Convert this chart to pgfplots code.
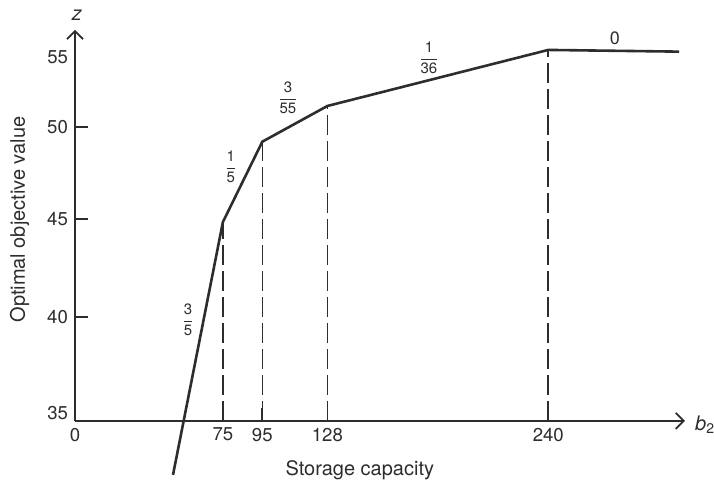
\documentclass[border=0pt]{standalone}
\usepackage{fontspec}
\setmainfont{TeX Gyre Heros}
\usepackage{pgfplots}
\pgfplotsset{compat=1.18}
\usetikzlibrary{arrows.meta}
\definecolor{ink}{RGB}{45,45,45}
\newcommand{\fr}[2]{$\displaystyle\frac{\mbox{#1}}{\mbox{#2}}$}
\begin{document}
\begin{tikzpicture}
\begin{axis}[
  scale only axis, width=305pt, height=195.5pt,
  xmin=0, xmax=309.3, ymin=35, ymax=55.58,
  axis x line=bottom, axis y line=left,
  axis line style={ink, line width=0.85pt},
  x axis line style={-{Straight Barb[length=4pt,width=8pt,line width=0.85pt]}},
  y axis line style={-{Straight Barb[length=4pt,width=8pt,line width=0.85pt]}},
  clip=false,
  xtick={0,75,95,128,240},
  xticklabels={0,75,95,128,240},
  ytick={40.46,45.62,50.49},
  yticklabels={40,45,50},
  tick style={ink, line width=0.85pt},
  tick align=inside, major tick length=6.5pt,
  ticklabel style={font=\fontsize{9.3}{11}\selectfont, text=ink},
  xlabel={Storage capacity},
  ylabel={Optimal objective value},
  label style={font=\fontsize{10}{12}\selectfont, text=ink},
  xlabel style={at={(axis description cs:0.467,-0.125)}, anchor=center},
  ylabel style={at={(axis description cs:-0.0909,0.515)}, anchor=center},
]
\addplot[ink, line width=1.3pt] coordinates {(49.7,32.16) (75,45.47) (95,49.70) (128,51.58) (240,54.53) (306.3,54.44)};
\addplot[ink, line width=0.8pt, dash pattern=on 10pt off 3pt] coordinates {(75,35) (75,45.47)};
\addplot[ink, line width=0.8pt, dash pattern=on 10pt off 3pt] coordinates {(95,35) (95,49.70)};
\addplot[ink, line width=0.8pt, dash pattern=on 10pt off 3pt] coordinates {(128,35) (128,51.58)};
\addplot[ink, line width=0.8pt, dash pattern=on 10pt off 3pt] coordinates {(240,35) (240,54.53)};
\draw[ink, line width=0.85pt] (axis cs:0,40.46) -- (axis cs:6.6,40.46);
\draw[ink, line width=0.85pt] (axis cs:0,45.62) -- (axis cs:6.6,45.62);
\draw[ink, line width=0.85pt] (axis cs:0,50.49) -- (axis cs:6.6,50.49);
\node[anchor=east, font=\fontsize{9.3}{11}\selectfont, text=ink, inner sep=0.333em] at (axis cs:0,35.42) {35};
\node[anchor=east, font=\fontsize{9.3}{11}\selectfont, text=ink, inner sep=0.333em] at (axis cs:0,54.16) {55};
\node[font=\fontsize{7.5}{8}\selectfont, text=ink] at (axis cs:57.3,40.32) {\fr{3}{5}};
\node[font=\fontsize{7.5}{8}\selectfont, text=ink] at (axis cs:79.0,48.37) {\fr{1}{5}};
\node[font=\fontsize{7.5}{8}\selectfont, text=ink] at (axis cs:108.0,52.0) {\fr{3}{55}};
\node[font=\fontsize{7.5}{8}\selectfont, text=ink] at (axis cs:179.5,54.11) {\fr{1}{36}};
\node[font=\fontsize{9}{10}\selectfont, text=ink] at (axis cs:273.8,55.16) {0};
\node[font=\fontsize{10}{12}\selectfont\itshape, text=ink] at (axis cs:1.0,56.37) {z};
\node[font=\fontsize{10}{12}\selectfont, text=ink, anchor=west] at (axis cs:310.9,34.79) {\textit{b}\textsubscript{2}};
\coordinate (BL) at (axis cs:-38.03,31.526);
\coordinate (TR) at (axis cs:324.04,57.158);
\end{axis}
\pgfresetboundingbox
\useasboundingbox (BL) rectangle (TR);
\end{tikzpicture}
\end{document}
